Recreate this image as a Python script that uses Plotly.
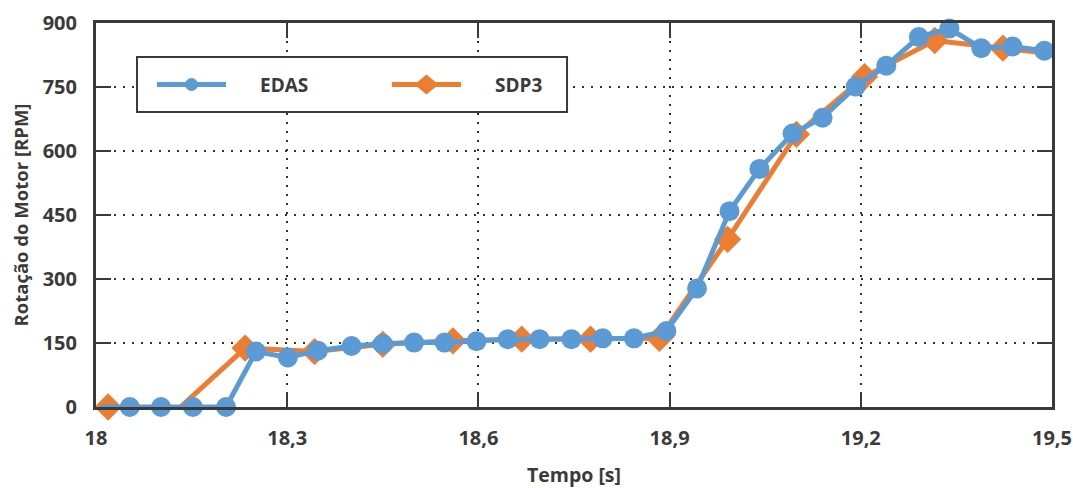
import plotly.graph_objects as go

# EDAS acquisition: time [s] and engine speed [RPM]
edas_t = [18.006, 18.053, 18.102, 18.152, 18.204, 18.251, 18.301, 18.348, 18.401,
          18.450, 18.499, 18.547, 18.597, 18.646, 18.696, 18.746, 18.795, 18.844,
          18.895, 18.943, 18.994, 19.041, 19.093, 19.140, 19.192, 19.240, 19.291,
          19.339, 19.389, 19.438, 19.488]
edas_rpm = [0, 0, 0, 0, 0, 130, 116, 132, 143, 148, 151, 151, 154, 159, 159, 159,
            161, 161, 178, 278, 459, 558, 641, 678, 751, 800, 867, 887, 841, 845, 835]

# SDP3 acquisition: time [s] and engine speed [RPM]
sdp3_t = [18.019, 18.129, 18.234, 18.343, 18.450, 18.560, 18.668, 18.776, 18.884,
          18.991, 19.099, 19.206, 19.316, 19.423, 19.488]
sdp3_rpm = [0, -5, 138, 130, 147, 155, 159, 159, 161, 393, 639, 774, 859, 841, 830]

series_names = ["EDAS", "SDP3"]

x_ticks = [18.0, 18.3, 18.6, 18.9, 19.2, 19.5]
x_labels = ["18", "18,3", "18,6", "18,9", "19,2", "19,5"]
y_ticks = [0, 150, 300, 450, 600, 750, 900]
y_labels = ["0", "150", "300", "450", "600", "750", "900"]

BLUE = "#5B9BD5"
ORANGE = "#ED7D31"
INK = "#3a3a3a"
FONT = "Open Sans"

# first / last samples only carry the line, not a marker
edas_sizes = [0] + [20] * (len(edas_t) - 1)
sdp3_sizes = [21] * (len(sdp3_t) - 1) + [0]

fig = go.Figure()
fig.add_trace(go.Scatter(
    x=sdp3_t, y=sdp3_rpm, mode="lines+markers", name=series_names[1],
    line=dict(color=ORANGE, width=5),
    marker=dict(symbol="diamond", size=sdp3_sizes, color=ORANGE, opacity=1,
                line=dict(width=0)),
    cliponaxis=False, showlegend=False,
))
fig.add_trace(go.Scatter(
    x=edas_t, y=edas_rpm, mode="lines+markers", name=series_names[0],
    line=dict(color=BLUE, width=5),
    marker=dict(symbol="circle", size=edas_sizes, color=BLUE, opacity=1,
                line=dict(width=0)),
    cliponaxis=False, showlegend=False,
))

axis_common = dict(
    showgrid=True, gridcolor="#333333", gridwidth=2, griddash="2px,7px",
    showline=True, linecolor=INK, linewidth=3, mirror="ticks",
    ticks="inside", ticklen=15, tickwidth=2, tickcolor=INK,
    tickfont=dict(family=FONT, size=20, color=INK, weight="bold"),
    zeroline=False, automargin=False,
)

fig.update_xaxes(
    range=[18, 19.5], tickvals=x_ticks, ticktext=x_labels, ticklabelstandoff=11,
    title=dict(text="Tempo [s]", font=dict(family=FONT, size=19.5, color=INK, weight="bold"),
               standoff=28),
    **axis_common,
)
fig.update_yaxes(
    range=[0, 900], tickvals=y_ticks, ticktext=y_labels, ticklabelstandoff=12,
    title=dict(text="Rotação do Motor [RPM]",
               font=dict(family=FONT, size=18.5, color=INK, weight="bold"), standoff=10),
    **axis_common,
)

# legend box drawn inside the plot area
lx0, lx1, ly0, ly1 = 0.0429, 0.4927, 0.768, 0.9115
ly = 0.8398
shapes = [
    dict(type="rect", xref="paper", yref="paper", x0=lx0, x1=lx1, y0=ly0, y1=ly1,
         line=dict(color=INK, width=2), fillcolor="white", layer="above"),
    dict(type="line", xref="paper", yref="paper", x0=0.0638, x1=0.136, y0=ly, y1=ly,
         line=dict(color=BLUE, width=5)),
    dict(type="line", xref="paper", yref="paper", x0=0.3096, x1=0.3818, y0=ly, y1=ly,
         line=dict(color=ORANGE, width=5)),
    dict(type="circle", xref="paper", yref="paper", xsizemode="pixel", ysizemode="pixel",
         xanchor=0.0999, yanchor=ly, x0=-6.5, x1=6.5, y0=-6.5, y1=6.5,
         fillcolor=BLUE, line=dict(width=0)),
    dict(type="path", xref="paper", yref="paper", xsizemode="pixel", ysizemode="pixel",
         xanchor=0.3457, yanchor=ly, path="M -12,0 L 0,10 L 12,0 L 0,-10 Z",
         fillcolor=ORANGE, line=dict(width=0)),
]
annotations = [
    dict(text=series_names[0], xref="paper", yref="paper", x=0.1695, y=ly,
         xanchor="left", yanchor="middle", showarrow=False,
         font=dict(family=FONT, size=19, color=INK, weight="bold")),
    dict(text=series_names[1], xref="paper", yref="paper", x=0.4153, y=ly,
         xanchor="left", yanchor="middle", showarrow=False,
         font=dict(family=FONT, size=19, color=INK, weight="bold")),
]

fig.update_layout(
    width=1073, height=488,
    margin=dict(l=96, r=21, t=23, b=81),
    paper_bgcolor="white", plot_bgcolor="white",
    shapes=shapes, annotations=annotations,
    font=dict(family=FONT, color=INK),
)

fig.write_html("out.html")
